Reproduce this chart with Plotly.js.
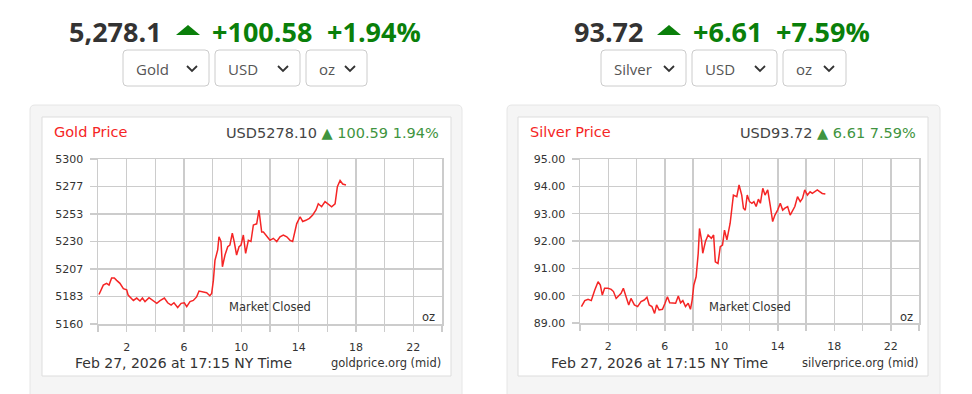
<!DOCTYPE html>
<html>
<head>
<meta charset="utf-8">
<script src="https://cdn.plot.ly/plotly-3.0.1.min.js"></script>
<style>
html,body{margin:0;padding:0;background:#fff;}
#chart{width:972px;height:394px;}
</style>
</head>
<body>
<div id="chart"></div>
<script>
// ---------- DATA ----------
const goldHours = [0.07,0.37,0.6,0.77,0.95,1.14,1.3,1.53,1.77,2.0,2.1,2.3,2.47,2.7,2.93,3.1,3.28,3.56,3.8,4.1,4.33,4.63,4.86,5.1,5.3,5.56,5.8,6.02,6.19,6.42,6.65,6.88,7.05,7.35,7.58,7.8,7.93,8.05,8.16,8.35,8.44,8.58,8.68,8.86,9.05,9.2,9.37,9.5,9.67,9.84,9.98,10.14,10.3,10.49,10.67,10.84,11.07,11.23,11.42,11.54,11.77,12.0,12.23,12.47,12.7,12.93,13.17,13.4,13.58,13.75,13.86,14.1,14.28,14.5,14.75,14.98,15.21,15.37,15.6,15.84,16.07,16.3,16.54,16.7,16.89,17.07,17.3];
const goldPrices = [5185,5193,5194.5,5193,5199,5199,5197,5194.5,5190,5189,5184.6,5182,5180,5182,5179.5,5182,5179,5182.3,5180,5177.5,5179.8,5182,5178,5176,5178,5174,5177.5,5178,5174.7,5179,5180,5183,5188,5187.5,5186.5,5184,5186,5197,5214,5222.8,5234,5230,5208.6,5218.5,5225.6,5227,5237,5230,5218.5,5225.6,5227,5235.5,5220,5231,5230,5244,5245,5256.7,5238,5238,5234,5231,5232.7,5230,5234,5235.5,5234,5231,5230,5240,5245,5251,5247,5248,5249.7,5252.5,5256.7,5262,5259.5,5263.8,5262,5259.5,5262,5276.5,5281.7,5278.8,5278];

const silverHours = [0.1,0.34,0.57,0.8,1.04,1.28,1.44,1.58,1.74,1.98,2.21,2.37,2.56,2.75,2.91,3.07,3.26,3.45,3.61,3.85,4.08,4.32,4.55,4.74,4.9,5.09,5.28,5.42,5.6,5.84,6.02,6.19,6.35,6.58,6.77,6.96,7.12,7.28,7.47,7.66,7.82,7.94,8.06,8.22,8.37,8.46,8.6,8.69,8.88,9.07,9.3,9.46,9.58,9.77,9.93,10.09,10.23,10.4,10.63,10.86,11.1,11.26,11.45,11.57,11.7,11.84,12.0,12.17,12.31,12.47,12.63,12.77,12.94,13.1,13.29,13.48,13.64,13.8,13.99,14.18,14.35,14.51,14.7,14.88,15.05,15.21,15.4,15.59,15.75,15.91,16.1,16.29,16.45,16.61,16.8,16.99,17.15,17.37];
const silverPrices = [89.6,89.82,89.87,89.82,90.2,90.51,90.39,90.02,90.27,90.27,90.23,90.15,89.9,89.99,90.09,90.27,89.99,89.66,89.9,89.66,89.6,89.78,89.84,89.94,89.66,89.6,89.35,89.66,89.48,89.5,89.72,89.96,89.74,89.72,89.72,89.99,89.74,89.82,89.6,89.72,89.5,89.84,90.39,90.69,91.55,92.46,92.04,91.55,91.98,92.22,92.1,92.22,91.24,91.18,91.79,91.85,92.4,92.04,92.65,93.68,93.62,94.05,93.68,93.2,93.13,93.68,93.44,93.38,93.44,93.26,93.53,93.38,93.93,93.68,93.87,93.26,92.71,92.95,93.13,93.38,93.13,93.2,93.26,92.95,93.13,93.26,93.62,93.44,93.56,93.87,93.68,93.8,93.74,93.8,93.87,93.8,93.74,93.72];

const hourTicks = [0,2,4,6,8,10,12,14,16,18,20,22,24];
const hourLabels = ['','2','','6','','10','','14','','18','','22',''];
const goldTicks = [5160,5183.333,5206.667,5230,5253.333,5276.667,5300];
const goldTickLabels = ['5160','5183','5207','5230','5253','5277','5300'];
const silverTicks = [89,90,91,92,93,94,95];
const silverTickLabels = ['89.00','90.00','91.00','92.00','93.00','94.00','95.00'];

const gold = {name:'Gold', price:'5,278.1', chg:'+100.58', pct:'+1.94%', title:'Gold Price',
  quote:'USD5278.10', qchg:'▲ 100.59 1.94%', source:'goldprice.org (mid)'};
const silver = {name:'Silver', price:'93.72', chg:'+6.61', pct:'+7.59%', title:'Silver Price',
  quote:'USD93.72', qchg:'▲ 6.61 7.59%', source:'silverprice.org (mid)'};
const stamp = 'Feb 27, 2026 at 17:15 NY Time';

// ---------- LAYOUT HELPERS ----------
const W = 972, H = 394;
const X = p => p / W;
const Y = p => 1 - p / H;

const GRID = '#cccccc';
const RED = '#f52525';
const GREEN = '#0a7f0a';
const QGREEN = '#3f9440';
const DARK = '#333333';
const TF = 'DejaVu Sans, Verdana, sans-serif';
const HF = 'Open Sans, sans-serif';

function rrect(x0,y0,x1,y1,r){
  const a=X(x0),b=X(x1),c=Y(y0),d=Y(y1),rx=r/W,ry=r/H;
  return `M${a+rx},${c} L${b-rx},${c} Q${b},${c} ${b},${c-ry} L${b},${d+ry} Q${b},${d} ${b-rx},${d} L${a+rx},${d} Q${a},${d} ${a},${d+ry} L${a},${c-ry} Q${a},${c} ${a+rx},${c} Z`;
}

const shapes = [];
const annotations = [];

function ann(text,x,y,opts){
  annotations.push(Object.assign({text:text,x:X(x),y:Y(y),xref:'paper',yref:'paper',
    showarrow:false,xanchor:'left',yanchor:'middle',borderpad:0},opts));
}

function panel(cfg, o){
  shapes.push({type:'path',path:rrect(o.ox0,105,o.ox1,400,5),xref:'paper',yref:'paper',
    fillcolor:'#f5f5f5',line:{color:'#e6e6e6',width:1},layer:'below'});
  shapes.push({type:'rect',xref:'paper',yref:'paper',x0:X(o.ix0),x1:X(o.ix1),y0:Y(376),y1:Y(117),
    fillcolor:'#ffffff',line:{color:'#dddddd',width:1},layer:'below'});
  ann(cfg.price, o.hx[0], 31.5, {font:{family:HF,size:27,color:DARK,weight:700}});
  shapes.push({type:'path',xref:'paper',yref:'paper',
    path:`M${X(o.hx[1])},${Y(35)} L${X(o.hx[1]+24)},${Y(35)} L${X(o.hx[1]+12)},${Y(25)} Z`,
    fillcolor:'#0a7f0a',line:{width:0}});
  ann(cfg.chg, o.hx[2], 31.5, {font:{family:HF,size:27,color:GREEN,weight:700}});
  ann(cfg.pct, o.hx[3], 31.5, {font:{family:HF,size:27,color:GREEN,weight:700}});
  o.sel.forEach(s=>{
    shapes.push({type:'path',path:rrect(s[0],50,s[1],86,4),xref:'paper',yref:'paper',
      fillcolor:'#ffffff',line:{color:'#cccccc',width:1}});
    ann(s[2], s[0]+12, 68.5, {font:{family:HF,size:15,color:'#555555'}});
    const cx = s[1]-17;
    shapes.push({type:'path',xref:'paper',yref:'paper',
      path:`M${X(cx-5)},${Y(66)} L${X(cx)},${Y(71)} L${X(cx+5)},${Y(66)}`,
      line:{color:'#333333',width:1.8}});
  });
  ann(cfg.title, o.ix0+11, 132, {font:{family:TF,size:14.5,color:RED}});
  ann(cfg.quote+' <span style="color:'+QGREEN+'">'+cfg.qchg+'</span>', o.ix1-11, 133,
      {xanchor:'right',font:{family:TF,size:14.5,color:'#444444'}});
  ann('Market Closed', o.mc, 307, {xanchor:'center',font:{family:TF,size:11.5,color:DARK}});
  ann('oz', o.ozx, 317, {xanchor:'right',font:{family:TF,size:11.5,color:DARK}});
  ann(stamp, o.ix0+32, 363, {font:{family:TF,size:14,color:DARK}});
  ann(cfg.source, o.ix1-9, 363, {xanchor:'right',font:{family:TF,size:11.5,color:DARK}});
}

panel(gold,{ox0:30,ox1:462,ix0:42,ix1:451,hx:[68,176,211,326],
  sel:[[123,209,'Gold'],[215,300,'USD'],[306,367,'oz']],mc:270,ozx:436});
panel(silver,{ox0:507,ox1:940,ix0:518,ix1:928,hx:[573,657,692,775],
  sel:[[601,686,'Silver'],[692,777,'USD'],[783,846,'oz']],mc:750,ozx:914});

function xax(d){
  return {domain:d,range:[0,24],tickvals:hourTicks,ticktext:hourLabels,showgrid:true,
    gridcolor:GRID,gridwidth:1.5,ticks:'outside',ticklen:6,tickwidth:1.5,tickcolor:GRID,
    showline:true,linecolor:GRID,linewidth:1.5,mirror:true,zeroline:false,fixedrange:true,
    tickfont:{family:TF,size:11,color:DARK},ticklabelstandoff:6};
}
function yax(d,tv,tt,rng,anchor){
  return {domain:d,range:rng,tickvals:tv,ticktext:tt,showgrid:true,gridcolor:GRID,gridwidth:1.5,
    ticks:'outside',ticklen:7,tickwidth:1.5,tickcolor:GRID,showline:true,linecolor:GRID,
    linewidth:1.5,mirror:true,zeroline:false,fixedrange:true,anchor:anchor,
    tickfont:{family:TF,size:11,color:DARK},ticklabelstandoff:4};
}

const traces = [
  {x:goldHours,y:goldPrices,type:'scatter',mode:'lines',line:{color:RED,width:1.5},
   xaxis:'x',yaxis:'y',hoverinfo:'skip'},
  {x:silverHours,y:silverPrices,type:'scatter',mode:'lines',line:{color:RED,width:1.5},
   xaxis:'x2',yaxis:'y2',hoverinfo:'skip'}
];

const layout = {
  width:W,height:H,margin:{l:0,r:0,t:0,b:0},paper_bgcolor:'#ffffff',plot_bgcolor:'#ffffff',
  showlegend:false,
  xaxis:Object.assign(xax([X(98),X(442)]),{anchor:'y'}),
  yaxis:yax([Y(324),Y(159)],goldTicks,goldTickLabels,[5160,5300],'x'),
  xaxis2:Object.assign(xax([X(580),X(919)]),{anchor:'y2'}),
  yaxis2:yax([Y(323),Y(159)],silverTicks,silverTickLabels,[89,95],'x2'),
  shapes:shapes,annotations:annotations
};

Plotly.newPlot('chart',traces,layout,{displayModeBar:false,staticPlot:true});
</script>
</body>
</html>
